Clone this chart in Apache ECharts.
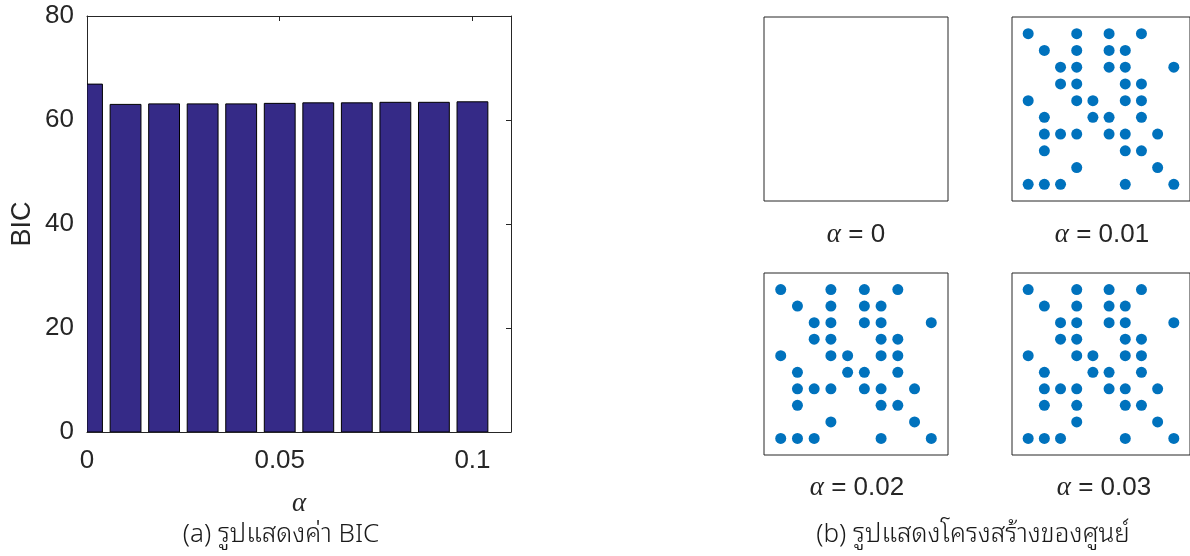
<!DOCTYPE html>
<html>
<head>
<meta charset="utf-8">
<script src="https://cdn.jsdelivr.net/npm/echarts@6/dist/echarts.min.js"></script>
<style>
  html, body { margin: 0; padding: 0; background: #ffffff; }
  #chart { width: 1190px; height: 556px; }
</style>
</head>
<body>
<div id="chart"></div>
<script>
// (a) BIC for each regularisation weight alpha
const alphaValues = [0, 0.01, 0.02, 0.03, 0.04, 0.05, 0.06, 0.07, 0.08, 0.09, 0.1];
const bicValues = [66.9, 63.0, 63.1, 63.1, 63.1, 63.2, 63.3, 63.3, 63.4, 63.4, 63.5];
const xTickValues = [0, 0.05, 0.1];
const yTickValues = [0, 20, 40, 60, 80];

// (b) centre structure on a 10 x 10 grid: [column, row], row 1 at the top
const panelAlphas = ['0', '0.01', '0.02', '0.03'];
const centersAlpha0 = [];
const centersAlpha001 = [
  [1,1],[4,1],[6,1],[8,1],
  [2,2],[4,2],[6,2],[7,2],
  [3,3],[4,3],[6,3],[7,3],[10,3],
  [3,4],[4,4],[7,4],[8,4],
  [1,5],[4,5],[5,5],[7,5],[8,5],
  [2,6],[5,6],[6,6],[8,6],
  [2,7],[3,7],[4,7],[6,7],[7,7],[9,7],
  [2,8],[7,8],[8,8],
  [4,9],[9,9],
  [1,10],[2,10],[3,10],[7,10],[10,10]
];
const centersAlpha002 = [
  [1,1],[4,1],[6,1],[8,1],
  [2,2],[4,2],[6,2],[7,2],
  [3,3],[4,3],[6,3],[7,3],[10,3],
  [3,4],[4,4],[7,4],[8,4],
  [1,5],[4,5],[5,5],[7,5],[8,5],
  [2,6],[5,6],[6,6],[8,6],
  [2,7],[3,7],[4,7],[6,7],[7,7],[9,7],
  [2,8],[7,8],[8,8],
  [4,9],[9,9],
  [1,10],[2,10],[3,10],[7,10],[10,10]
];
const centersAlpha003 = [
  [1,1],[4,1],[6,1],[8,1],
  [2,2],[4,2],[6,2],[7,2],
  [3,3],[4,3],[6,3],[7,3],[10,3],
  [3,4],[4,4],[7,4],[8,4],
  [1,5],[4,5],[5,5],[7,5],[8,5],
  [2,6],[5,6],[6,6],[8,6],
  [2,7],[3,7],[4,7],[6,7],[7,7],[9,7],
  [2,8],[4,8],[7,8],[8,8],
  [4,9],[9,9],
  [1,10],[2,10],[3,10],[7,10],[10,10]
];
const panelCenters = [centersAlpha0, centersAlpha001, centersAlpha002, centersAlpha003];

const captionA = '(a) รูปแสดงค่า BIC';
const captionB = '(b) รูปแสดงโครงสร้างของศูนย์';

const SANS = '"Liberation Sans", Arial, Helvetica, sans-serif';
const MATH = '"Liberation Serif", "DejaVu Serif", serif';
const THAI = '"Noto Sans Thai Looped", "Noto Sans Thai", Loma, Garuda, Norasi, sans-serif';
const INK = '#262626';
const BAR_FILL = '#352A87';
const DOT_FILL = '#0072BD';

const chart = echarts.init(document.getElementById('chart'), null, { renderer: 'canvas' });

// Panel boxes for (b)
const panelBoxes = [
  { left: 764, top: 17, width: 184, height: 184 },
  { left: 1012, top: 17, width: 184, height: 184 },
  { left: 764, top: 273, width: 184, height: 182 },
  { left: 1012, top: 273, width: 184, height: 182 }
];
const panelLabelPos = [[856, 235], [1102, 235], [857, 488], [1104, 488]];

const grids = [{ left: 87, top: 16, width: 424, height: 416, containLabel: false }];
panelBoxes.forEach(b => grids.push(Object.assign({
  show: true, borderColor: INK, borderWidth: 1, backgroundColor: '#fff'
}, b)));

const boxAxisLine = { show: true, onZero: false, lineStyle: { color: INK, width: 1 } };
const xAxes = [
  {
    gridIndex: 0, type: 'value', min: 0, max: 0.11, position: 'bottom',
    axisLine: boxAxisLine,
    axisTick: { show: true, inside: true, length: 5, customValues: xTickValues, lineStyle: { color: INK } },
    axisLabel: { customValues: xTickValues, color: INK, fontSize: 26, fontFamily: SANS, margin: 16 },
    splitLine: { show: false },
    name: 'α', nameLocation: 'middle', nameGap: 58,
    nameTextStyle: { fontFamily: MATH, fontStyle: 'italic', fontSize: 27, color: INK }
  },
  {
    gridIndex: 0, type: 'value', min: 0, max: 0.11, position: 'top',
    axisLine: boxAxisLine,
    axisTick: { show: true, inside: true, length: 5, customValues: xTickValues, lineStyle: { color: INK } },
    axisLabel: { show: false }, splitLine: { show: false }
  }
];
const yAxes = [
  {
    gridIndex: 0, type: 'value', min: 0, max: 80, interval: 20, position: 'left',
    axisLine: boxAxisLine,
    axisTick: { show: true, inside: true, length: 5, lineStyle: { color: INK } },
    axisLabel: { color: INK, fontSize: 26, fontFamily: SANS, margin: 13 },
    splitLine: { show: false },
    name: 'BIC', nameLocation: 'middle', nameGap: 51, nameRotate: 90,
    nameTextStyle: { fontFamily: SANS, fontSize: 27, color: INK }
  },
  {
    gridIndex: 0, type: 'value', min: 0, max: 80, interval: 20, position: 'right',
    axisLine: boxAxisLine,
    axisTick: { show: true, inside: true, length: 5, lineStyle: { color: INK } },
    axisLabel: { show: false }, splitLine: { show: false }
  }
];
// The BIC plot owns axes 0 and 1, so each panel's axes start at index 2
panelBoxes.forEach((b, i) => {
  xAxes.push({ gridIndex: i + 1, type: 'value', min: 0, max: 11, show: false });
  yAxes.push({ gridIndex: i + 1, type: 'value', min: 0, max: 11, inverse: true, show: false });
});

// Bars are drawn as clipped rectangles so the alpha = 0 bar is cut at the left axis
const series = [{
  type: 'custom',
  xAxisIndex: 0, yAxisIndex: 0,
  data: alphaValues.map((a, i) => [a, bicValues[i]]),
  clip: true,
  silent: true,
  renderItem: function (params, api) {
    const base = api.coord([api.value(0), 0]);
    const top = api.coord([api.value(0), api.value(1)]);
    const w = api.size([0.008, 0])[0];
    const cs = params.coordSys;
    const shape = echarts.graphic.clipRectByRect(
      { x: base[0] - w / 2, y: top[1], width: w, height: base[1] - top[1] },
      { x: cs.x, y: cs.y, width: cs.width, height: cs.height }
    );
    if (!shape) return null;
    return {
      type: 'rect',
      shape: shape,
      style: { fill: BAR_FILL, stroke: '#000000', lineWidth: 1 }
    };
  }
}];
panelCenters.forEach((pts, i) => {
  series.push({
    type: 'scatter',
    xAxisIndex: i + 2, yAxisIndex: i + 2,
    data: pts,
    symbol: 'circle', symbolSize: 11,
    itemStyle: { color: DOT_FILL, opacity: 1 },
    silent: true
  });
});

const graphics = panelAlphas.map((v, i) => ({
  type: 'text',
  x: panelLabelPos[i][0], y: panelLabelPos[i][1],
  style: {
    text: '{m|α} = ' + v,
    rich: { m: { fontFamily: MATH, fontStyle: 'italic', fontSize: 27, fill: INK } },
    font: '26px ' + SANS, fill: INK, align: 'center', verticalAlign: 'middle'
  }
}));
graphics.push({
  type: 'text', x: 281, y: 535,
  style: { text: captionA, font: '300 26px ' + THAI, fill: '#1a1a1a', align: 'center', verticalAlign: 'middle' }
});
graphics.push({
  type: 'text', x: 973, y: 535,
  style: { text: captionB, font: '300 26px ' + THAI, fill: '#1a1a1a', align: 'center', verticalAlign: 'middle' }
});

chart.setOption({
  animation: false,
  backgroundColor: '#ffffff',
  grid: grids,
  xAxis: xAxes,
  yAxis: yAxes,
  series: series,
  graphic: graphics
});
</script>
</body>
</html>
